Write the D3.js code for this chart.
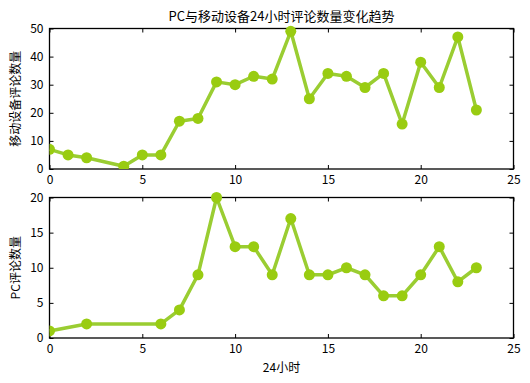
<!DOCTYPE html>
<html>
<head>
<meta charset="utf-8">
<script src="https://cdn.jsdelivr.net/npm/d3@7"></script>
<style>
body { margin: 0; background: #fff; }
text { font-family: "Noto Sans CJK SC", "DejaVu Sans", sans-serif; }
</style>
</head>
<body>
<svg width="530" height="383"></svg>
<script>
'use strict'

let mobileHours = [0, 1, 2, 4, 5, 6, 7, 8, 9, 10, 11, 12, 13, 14, 15, 16, 17, 18, 19, 20, 21, 22, 23];
let mobileCounts = [7, 5, 4, 1, 5, 5, 17, 18, 31, 30, 33, 32, 49, 25, 34, 33, 29, 34, 16, 38, 29, 47, 21];

let pcHours = [0, 2, 6, 7, 8, 9, 10, 11, 12, 13, 14, 15, 16, 17, 18, 19, 20, 21, 22, 23];
let pcCounts = [1, 2, 2, 4, 9, 20, 13, 13, 9, 17, 9, 9, 10, 9, 6, 6, 9, 13, 8, 10];

let xTicks = [0, 5, 10, 15, 20, 25];
let mobileTicks = [0, 10, 20, 30, 40, 50];
let pcTicks = [0, 5, 10, 15, 20];

let svg = d3.select('svg'),
    left = 49.5, right = 513.5;

let lineColor = '#9acd32';

let x = d3.scaleLinear().domain([0, 25]).range([left, right]);

function panel(top, bottom, hours, counts, yMax, yTicks, ylabel) {
    let y = d3.scaleLinear().domain([0, yMax]).range([bottom, top]);
    let g = svg.append('g');

    g.append('g')
        .attr('transform', 'translate(0,' + bottom + ')')
        .call(d3.axisBottom(x).tickValues(xTicks).tickSize(-4).tickPadding(6).tickFormat(d3.format('d')));
    g.append('g')
        .attr('transform', 'translate(0,' + top + ')')
        .call(d3.axisTop(x).tickValues(xTicks).tickSize(-4).tickFormat(''));
    g.append('g')
        .attr('transform', 'translate(' + left + ',0)')
        .call(d3.axisLeft(y).tickValues(yTicks).tickSize(-4).tickPadding(6));
    g.append('g')
        .attr('transform', 'translate(' + right + ',0)')
        .call(d3.axisRight(y).tickValues(yTicks).tickSize(-4).tickFormat(''));

    g.selectAll('.domain').remove();
    g.selectAll('.tick line').attr('stroke', '#000');
    g.selectAll('.tick text').attr('font-size', 12).attr('fill', '#000');

    g.append('rect')
        .attr('x', left).attr('y', top)
        .attr('width', right - left).attr('height', bottom - top)
        .attr('fill', 'none').attr('stroke', '#000').attr('stroke-width', 1.3);

    let pts = hours.map(function(h, i) { return [h, counts[i]]; });

    let clip = 'clip' + Math.round(top);
    g.append('clipPath').attr('id', clip)
        .append('rect')
        .attr('x', left).attr('y', top - 6)
        .attr('width', right - left).attr('height', bottom - top + 6);

    g.append('path')
        .datum(pts)
        .attr('clip-path', 'url(#' + clip + ')')
        .attr('fill', 'none')
        .attr('stroke', lineColor)
        .attr('stroke-width', 3.5)
        .attr('stroke-linejoin', 'round')
        .attr('d', d3.line().x(function(d) { return x(d[0]); }).y(function(d) { return y(d[1]); }));

    g.append('g')
        .attr('clip-path', 'url(#' + clip + ')')
        .selectAll('circle')
        .data(pts)
        .enter().append('circle')
        .attr('cx', function(d) { return x(d[0]); })
        .attr('cy', function(d) { return y(d[1]); })
        .attr('r', 5.5)
        .attr('fill', '#99cc11');

    svg.append('text')
        .attr('transform', 'translate(20,' + ((top + bottom) / 2) + ') rotate(-90)')
        .attr('text-anchor', 'middle')
        .attr('font-size', 12)
        .text(ylabel);
}

panel(28.5, 169, mobileHours, mobileCounts, 50, mobileTicks, '移动设备评论数量');
panel(197.5, 338, pcHours, pcCounts, 20, pcTicks, 'PC评论数量');

svg.append('text')
    .attr('x', (left + right) / 2)
    .attr('y', 21)
    .attr('text-anchor', 'middle')
    .attr('font-size', 13)
    .text('PC与移动设备24小时评论数量变化趋势');

svg.append('text')
    .attr('x', (left + right) / 2)
    .attr('y', 372)
    .attr('text-anchor', 'middle')
    .attr('font-size', 12)
    .text('24小时');
</script>
</body>
</html>
